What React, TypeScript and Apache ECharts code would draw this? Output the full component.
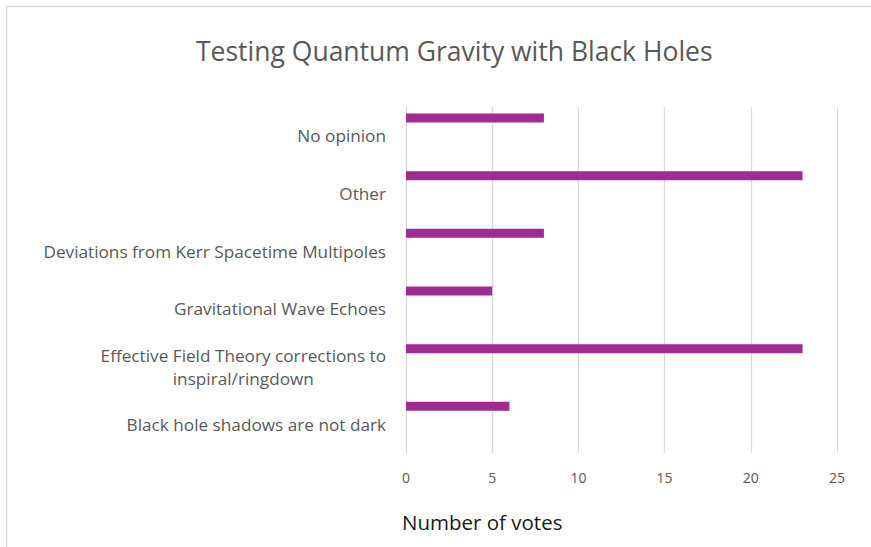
import React, { useEffect, useRef } from "react";
import * as echarts from "echarts";

const categories = [
  "Black hole shadows are not dark",
  "Effective Field Theory corrections to inspiral/ringdown",
  "Gravitational Wave Echoes",
  "Deviations from Kerr Spacetime Multipoles",
  "Other",
  "No opinion",
];
const votes = [6, 23, 5, 8, 23, 8];
const spacerValues = [0, 0, 0, 0, 0, 0];
const xTicks = [0, 5, 10, 15, 20, 25];
const chartTitle = "Testing Quantum Gravity with Black Holes";
const axisTitle = "Number of votes";

const FONT = "'Open Sans', Lato, sans-serif";

export default function App() {
  const ref = useRef<HTMLDivElement>(null);
  useEffect(() => {
    if (!ref.current) return;
    const chart = echarts.init(ref.current, undefined, { renderer: "svg" });
    chart.setOption({
      animation: false,
      backgroundColor: "#ffffff",
      textStyle: { fontFamily: FONT },
      title: [
        {
          text: chartTitle,
          left: 191,
          top: 32,
          textStyle: { fontFamily: FONT, fontSize: 26.5, fontWeight: "normal", color: "#595959" },
        },
        {
          text: axisTitle,
          left: 397,
          top: 506,
          textStyle: { fontFamily: FONT, fontSize: 20.5, fontWeight: "normal", color: "#1a1a1a" },
        },
      ],
      graphic: [
        {
          type: "rect",
          shape: { x: 6.5, y: 6.5, width: 900, height: 600 },
          style: { fill: "none", stroke: "#dcdcdc", lineWidth: 1.5 },
          silent: true,
        },
      ],
      grid: { left: 406, right: 34, top: 107, bottom: 94, containLabel: false },
      xAxis: {
        type: "value",
        min: xTicks[0],
        max: xTicks[xTicks.length - 1],
        interval: xTicks[1] - xTicks[0],
        axisLine: { show: false },
        axisTick: { show: false },
        axisLabel: { color: "#595959", fontSize: 14, fontFamily: FONT, margin: 17 },
        splitLine: { show: true, lineStyle: { color: "#d9d9d9", width: 1.3 } },
      },
      yAxis: {
        type: "category",
        data: categories,
        axisLine: { show: false },
        axisTick: { show: false },
        axisLabel: {
          color: "#595959",
          fontSize: 17.2,
          fontFamily: FONT,
          margin: 20,
          formatter: (v: string) => {
            if (v.indexOf("Effective Field Theory") === 0) {
              return "{c|Effective Field Theory corrections to}\n{c|inspiral/ringdown}";
            }
            return v;
          },
          rich: {
            c: {
              align: "center",
              fontSize: 17.2,
              fontFamily: FONT,
              color: "#595959",
              lineHeight: 23,
            },
          },
        },
      },
      series: [
        {
          type: "bar",
          data: votes,
          barWidth: 9,
          barGap: "296%",
          itemStyle: { color: "#A02B93" },
        },
        {
          type: "bar",
          data: spacerValues,
          barWidth: 9,
          itemStyle: { color: "rgba(0,0,0,0)" },
        },
      ],
    });
    return () => chart.dispose();
  }, []);
  return (
    <div style={{ position: "fixed", left: 0, top: 0, width: 871, height: 547 }}>
      <div ref={ref} style={{ width: 871, height: 547 }} />
    </div>
  );
}
